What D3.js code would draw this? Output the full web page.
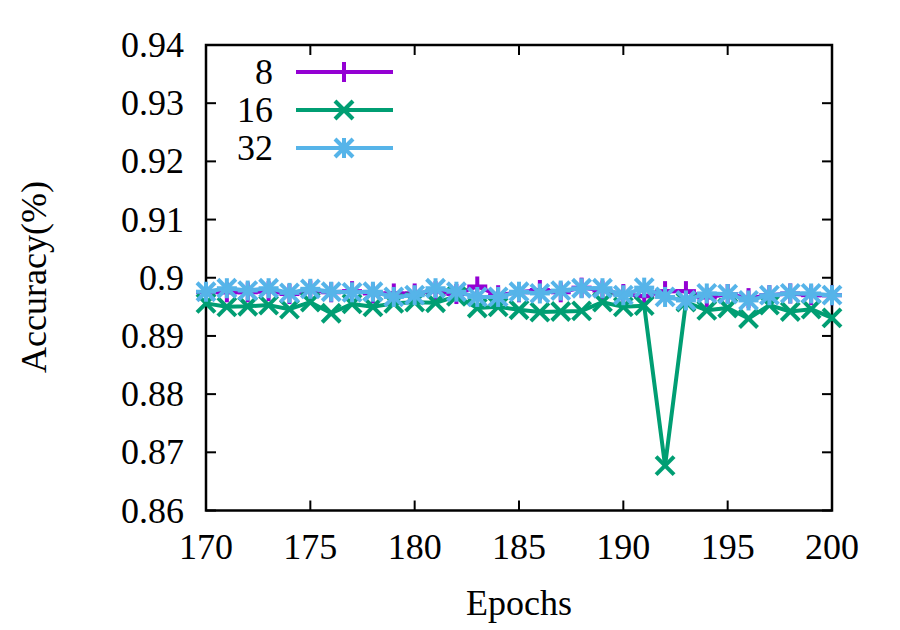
<!DOCTYPE html>
<html>
<head>
<meta charset="utf-8">
<script src="https://cdn.jsdelivr.net/npm/d3@7"></script>
<style>
  html, body { margin: 0; padding: 0; background: #fff; }
  svg { display: block; }
</style>
</head>
<body>
<svg id="chart" width="900" height="630"></svg>
<script>
const epochs = d3.range(170, 201);
const seriesNames = ["8", "16", "32"];
const acc8 = [0.8975,0.8975,0.8975,0.8977,0.8972,0.8978,0.8975,0.8977,0.8973,0.8973,0.8973,
              0.8977,0.8972,0.8985,0.8970,0.8975,0.8979,0.8975,0.8983,0.8978,0.8972,
              0.8968,0.8977,0.8977,0.8966,0.8972,0.8965,0.8970,0.8973,0.8970,0.8970];
const acc16 = [0.8956,0.8950,0.8951,0.8953,0.8946,0.8958,0.8939,0.8955,0.8950,0.8956,0.8958,
               0.8957,0.8968,0.8948,0.8950,0.8945,0.8941,0.8942,0.8943,0.8958,0.8950,
               0.8952,0.8677,0.8958,0.8944,0.8948,0.8930,0.8953,0.8942,0.8946,0.8931];
const acc32 = [0.8976,0.8982,0.8978,0.8982,0.8974,0.8981,0.8976,0.8975,0.8976,0.8967,0.8970,
               0.8982,0.8976,0.8967,0.8967,0.8976,0.8973,0.8978,0.8982,0.8982,0.8970,
               0.8983,0.8967,0.8961,0.8973,0.8972,0.8961,0.8970,0.8973,0.8973,0.8970];
const xTicks = [170, 175, 180, 185, 190, 195, 200];
const yTicks = [0.86, 0.87, 0.88, 0.89, 0.90, 0.91, 0.92, 0.93, 0.94];
const yTickLabels = ["0.86","0.87","0.88","0.89","0.9","0.91","0.92","0.93","0.94"];
const colors = ["#9400d3", "#009e73", "#56b4e9"];
const markers = ["plus", "cross", "star"];

const FONT = "'Liberation Serif'";
const svg = d3.select("#chart");
const L = 206, R = 832, T = 45, B = 510.5;
const x = d3.scaleLinear().domain([170, 200]).range([L, R]);
const y = d3.scaleLinear().domain([0.86, 0.94]).range([B, T]);
const FS = 36;

// frame
svg.append("rect").attr("x", L).attr("y", T).attr("width", R - L).attr("height", B - T)
  .attr("fill", "none").attr("stroke", "#000").attr("stroke-width", 2.5);

// ticks (inward, mirrored)
const tl = 10;
const tg = svg.append("g").attr("stroke", "#000").attr("stroke-width", 2);
xTicks.forEach(v => {
  tg.append("line").attr("x1", x(v)).attr("x2", x(v)).attr("y1", B).attr("y2", B - tl);
  tg.append("line").attr("x1", x(v)).attr("x2", x(v)).attr("y1", T).attr("y2", T + tl);
});
yTicks.forEach(v => {
  tg.append("line").attr("x1", L).attr("x2", L + tl).attr("y1", y(v)).attr("y2", y(v));
  tg.append("line").attr("x1", R).attr("x2", R - tl).attr("y1", y(v)).attr("y2", y(v));
});

function txt(xp, yp, anchor, s) {
  return svg.append("text").attr("x", xp).attr("y", yp).attr("text-anchor", anchor)
    .attr("font-family", FONT).attr("font-size", FS).attr("fill", "#000").text(s);
}

// tick labels
xTicks.forEach(v => txt(x(v), 559, "middle", v));
yTicks.forEach((v, i) => txt(184, y(v) + 12, "end", yTickLabels[i]));

// axis titles
txt(519, 615, "middle", "Epochs");
svg.append("text").attr("transform", "translate(46,277) rotate(-90)")
  .attr("text-anchor", "middle").attr("font-family", FONT).attr("font-size", FS)
  .attr("fill", "#000").text("Accuracy(%)");

function drawMarker(g, type, cx, cy, color) {
  const s = 10, c = 9;
  const m = g.append("g").attr("stroke", color).attr("stroke-width", 4).attr("fill", "none");
  if (type === "plus" || type === "star") {
    m.append("line").attr("x1", cx - s).attr("x2", cx + s).attr("y1", cy).attr("y2", cy);
    m.append("line").attr("x1", cx).attr("x2", cx).attr("y1", cy - s).attr("y2", cy + s);
  }
  if (type === "cross" || type === "star") {
    m.append("line").attr("x1", cx - c).attr("x2", cx + c).attr("y1", cy - c).attr("y2", cy + c);
    m.append("line").attr("x1", cx - c).attr("x2", cx + c).attr("y1", cy + c).attr("y2", cy - c);
  }
}

const allSeries = [acc8, acc16, acc32];
const line = d3.line().x((d, i) => x(epochs[i])).y(d => y(d));
const plot = svg.append("g");
allSeries.forEach((vals, k) => {
  plot.append("path").datum(vals).attr("d", line).attr("fill", "none")
    .attr("stroke", colors[k]).attr("stroke-width", 4).attr("stroke-linejoin", "round");
  vals.forEach((v, i) => drawMarker(plot, markers[k], x(epochs[i]), y(v), colors[k]));
});

// legend
const legY = [72, 110, 148];
seriesNames.forEach((n, k) => {
  txt(273, legY[k] + 12, "end", n);
  svg.append("line").attr("x1", 296).attr("x2", 393).attr("y1", legY[k]).attr("y2", legY[k])
    .attr("stroke", colors[k]).attr("stroke-width", 4);
  drawMarker(svg, markers[k], 344, legY[k], colors[k]);
});
</script>
</body>
</html>
